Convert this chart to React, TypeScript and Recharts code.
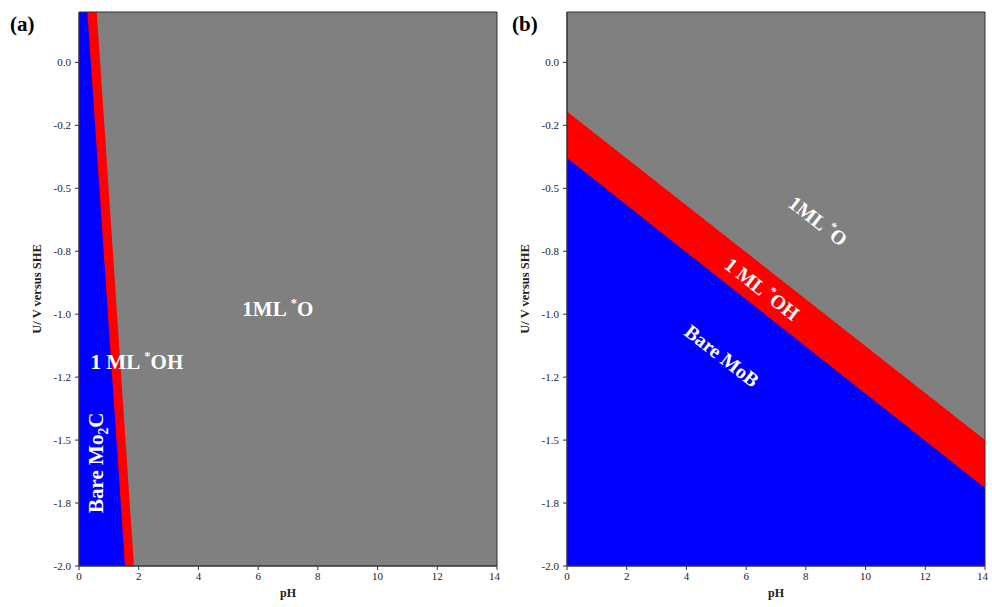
import { ComposedChart, Area, XAxis, YAxis, CartesianGrid, ReferenceArea, ReferenceDot } from "recharts";

const colors = {
    bare: "#0000FF",
    oh: "#FF0000",
    o: "#808080",
    axis: "#333333",
};

// panel (a) Mo2C: upper edge of each region, pH in x
const phA = [0, 2];
const bareTopA = [0.69, -2.8];
const ohTopA = [1.25, -2.28];

// panel (b) MoB
const phB = [0, 14];
const bareTopB = [-0.38, -1.69];
const ohTopB = [-0.195, -1.5];

const xTicks = [0, 2, 4, 6, 8, 10, 12, 14];
const yTicks = [0, -0.25, -0.5, -0.75, -1.0, -1.25, -1.5, -1.75, -2.0];
const yTickLabels = ["0.0", "-0.2", "-0.5", "-0.8", "-1.0", "-1.2", "-1.5", "-1.8", "-2.0"];
const yDomain: [number, number] = [-2.0, 0.2];

const font = "'Liberation Serif', 'DejaVu Serif', serif";

type Note = { x: number; y: number; angle: number; size: number; parts: { t: string; kind?: "sup" | "sub" }[] };

const notesA: Note[] = [
    { x: 6.66, y: -0.98, angle: 0, size: 21, parts: [{ t: "1ML " }, { t: "*", kind: "sup" }, { t: "O" }] },
    { x: 1.94, y: -1.19, angle: 0, size: 21, parts: [{ t: "1 ML " }, { t: "*", kind: "sup" }, { t: "OH" }] },
    { x: 0.57, y: -1.59, angle: -90, size: 21, parts: [{ t: "Bare Mo" }, { t: "2", kind: "sub" }, { t: "C" }] },
];

const notesB: Note[] = [
    { x: 8.41, y: -0.63, angle: 38, size: 20, parts: [{ t: "1ML " }, { t: "*", kind: "sup" }, { t: "O" }] },
    { x: 6.53, y: -0.9, angle: 38, size: 20, parts: [{ t: "1 ML " }, { t: "*", kind: "sup" }, { t: "OH" }] },
    { x: 5.19, y: -1.165, angle: 38, size: 20, parts: [{ t: "Bare MoB" }] },
];

function NoteText(props: any, note: Note) {
    const { cx, cy } = props;
    return (
        <text
            x={cx}
            y={cy}
            transform={`rotate(${note.angle}, ${cx}, ${cy})`}
            textAnchor="middle"
            dominantBaseline="central"
            fill="#FFFFFF"
            fontFamily={font}
            fontWeight="bold"
            fontSize={note.size}
        >
            {note.parts.map((p, i) => (
                <tspan
                    key={i}
                    fontSize={p.kind === "sup" ? note.size * 0.6 : p.kind === "sub" ? note.size * 0.65 : note.size}
                    baselineShift={p.kind === "sup" ? "45%" : p.kind === "sub" ? "sub" : undefined}
                >
                    {p.t}
                </tspan>
            ))}
        </text>
    );
}

function Panel({ ph, bareTop, ohTop, notes }: { ph: number[]; bareTop: number[]; ohTop: number[]; notes: Note[] }) {
    const data = ph.map((p, i) => ({ ph: p, bare: bareTop[i], oh: ohTop[i] }));
    const tickStyle = { fontFamily: font, fontSize: 11, fill: "#222" };
    return (
        <ComposedChart width={500} height={607} data={data} margin={{ top: 12, right: 3, bottom: 7, left: 19 }}>
            <CartesianGrid horizontal={false} vertical={false} fill={colors.o} fillOpacity={1} />
            <XAxis
                dataKey="ph"
                type="number"
                domain={[0, 14]}
                ticks={xTicks}
                allowDataOverflow
                height={34}
                tickSize={4}
                tickMargin={2}
                stroke={colors.axis}
                tick={tickStyle}
                label={{ value: "pH", position: "insideBottom", offset: 3, style: { fontFamily: font, fontSize: 12, fontWeight: "bold", fill: "#222" } }}
            />
            <YAxis
                type="number"
                domain={yDomain}
                ticks={yTicks}
                allowDataOverflow
                width={60}
                tickSize={4}
                tickMargin={4}
                stroke={colors.axis}
                tick={tickStyle}
                tickFormatter={(v: number) => yTickLabels[yTicks.indexOf(v)] ?? String(v)}
                label={{ value: "U/ V versus SHE", angle: -90, position: "insideLeft", offset: 18, style: { fontFamily: font, fontSize: 12.5, fontWeight: "bold", fill: "#222", textAnchor: "middle" } }}
            />
            <Area type="linear" dataKey="oh" baseValue={-2} fill={colors.oh} fillOpacity={1} stroke="none" isAnimationActive={false} />
            <Area type="linear" dataKey="bare" baseValue={-2} fill={colors.bare} fillOpacity={1} stroke="none" isAnimationActive={false} />
            <ReferenceArea x1={0} x2={14} y1={yDomain[0]} y2={yDomain[1]} fill="none" stroke={colors.axis} strokeWidth={1} />
            {notes.map((n, i) => (
                <ReferenceDot key={i} x={n.x} y={n.y} r={0} shape={(p: any) => NoteText(p, n)} />
            ))}
        </ComposedChart>
    );
}

export default function App() {
    const tag = { position: "absolute" as const, fontFamily: font, fontWeight: "bold" as const, fontSize: 21, top: 12, lineHeight: "24px" };
    return (
        <div style={{ position: "absolute", left: 0, top: 0, width: 992, height: 607, background: "#fff" }}>
            <div style={{ position: "absolute", left: 0, top: 0 }}>
                <Panel ph={phA} bareTop={bareTopA} ohTop={ohTopA} notes={notesA} />
            </div>
            <div style={{ position: "absolute", left: 488, top: 0 }}>
                <Panel ph={phB} bareTop={bareTopB} ohTop={ohTopB} notes={notesB} />
            </div>
            <div style={{ ...tag, left: 10 }}>(a)</div>
            <div style={{ ...tag, left: 512 }}>(b)</div>
        </div>
    );
}
